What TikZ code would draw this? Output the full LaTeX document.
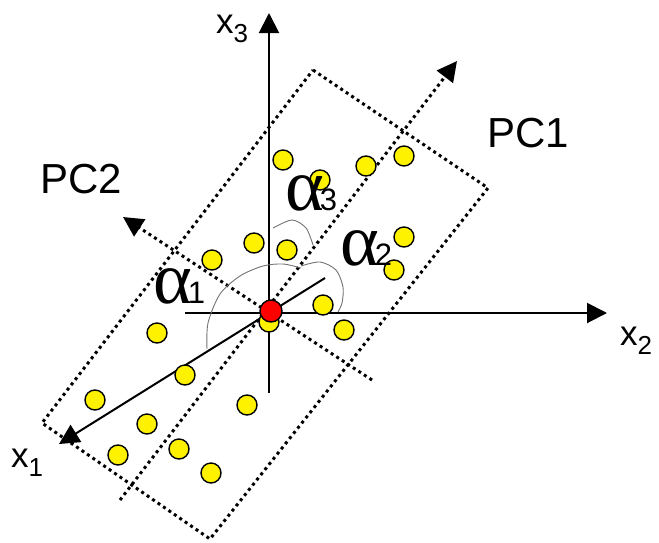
\documentclass[tikz,border=0pt]{standalone}
\usepackage{fontspec}
\setmainfont{Liberation Sans}
\newfontfamily\grk{Liberation Serif}
\usetikzlibrary{arrows.meta}
\begin{document}
\begin{tikzpicture}[x=1pt,y=-1pt,
  axis/.style={line width=2pt},
  tip/.style={-{Triangle[length=20pt,width=20pt]}},
  dotline/.style={line width=3pt, dash pattern=on 3pt off 3.6pt},
  pt/.style={circle, draw=black, line width=1.4pt, fill=yellow, minimum size=20pt, inner sep=0pt},
  arcline/.style={draw=black!55, line width=0.9pt},
  lab/.style={inner sep=0pt, anchor=base west, font=\fontsize{42}{42}\selectfont},
  xlab/.style={inner sep=0pt, anchor=base west, font=\fontsize{35}{35}\selectfont},
  alab/.style={inner sep=0pt, anchor=base west},
]
\useasboundingbox (0,0) rectangle (659,542);
\newcommand{\sbs}[1]{\raisebox{-9pt}{\fontsize{26}{26}\selectfont #1}}
\newcommand{\alp}[1]{{\grk\fontsize{74}{74}\selectfont α}\kern-4pt{\fontsize{31}{31}\selectfont #1}}

% dotted rectangle
\coordinate (r1) at (313,70);
\coordinate (r2) at (488,188);
\coordinate (r3) at (210,539);
\coordinate (r4) at (42,423);
\draw[dotline] (r1) -- (r2) -- (r3) -- (r4) -- cycle;

% principal component axes
\coordinate (pc1s) at (120,500);
\coordinate (pc1e) at (457,61);
\coordinate (pc2s) at (372,380);
\coordinate (pc2e) at (123,217);
\draw[dotline,tip] (pc1s) -- (pc1e);
\draw[dotline,tip] (pc2s) -- (pc2e);

% coordinate axes
\coordinate (x3s) at (269,393);
\coordinate (x3e) at (269,13);
\coordinate (x2s) at (185,313);
\coordinate (x2e) at (607,313);
\coordinate (x1s) at (325,278);
\coordinate (x1e) at (59,444);
\draw[axis,tip] (x3s) -- (x3e);
\draw[axis,tip] (x2s) -- (x2e);
\draw[axis,tip] (x1s) -- (x1e);

% angle arcs
\draw[arcline] plot[smooth] coordinates {(207,349) (208,323) (220,294) (240,276) (263,266) (283,264) (301,268)};
\draw[arcline] plot[smooth] coordinates {(301,266) (320,262) (336,270) (343,287) (342,303) (338,312)};
\draw[arcline] plot[smooth] coordinates {(273,228) (292,220) (306,228) (313,245)};

% data points
\node[pt] (p1) at (283,160) {};
\node[pt] (p2) at (320,180) {};
\node[pt] (p3) at (366,166) {};
\node[pt] (p4) at (404,156) {};
\node[pt] (p5) at (254,243) {};
\node[pt] (p6) at (287,250) {};
\node[pt] (p7) at (212,260) {};
\node[pt] (p8) at (404,237) {};
\node[pt] (p9) at (394,270) {};
\node[pt] (p10) at (323,305) {};
\node[pt] (p11) at (344,330) {};
\node[pt] (p12) at (157,333) {};
\node[pt] (p13) at (185,375) {};
\node[pt] (p14) at (269,322) {};
\node[pt] (p15) at (95,400) {};
\node[pt] (p16) at (147,424) {};
\node[pt] (p17) at (247,405) {};
\node[pt] (p18) at (179,449) {};
\node[pt] (p19) at (118,455) {};
\node[pt] (p20) at (211,473) {};
\node[pt, fill=red, minimum size=22pt] (o) at (271,311) {};

% labels
\node[xlab] (lx3) at (216,33) {x\sbs{3}};
\node[xlab] (lx2) at (620,345) {x\sbs{2}};
\node[xlab] (lx1) at (11,467) {x\sbs{1}};
\node[lab] (lpc1) at (487,147) {PC1};
\node[lab] (lpc2) at (40,193) {PC2};
\node[alab] (la1) at (153,303) {\alp{1}};
\node[alab] (la2) at (340,265) {\alp{2}};
\node[alab] (la3) at (285,210) {\alp{3}};
\end{tikzpicture}
\end{document}
